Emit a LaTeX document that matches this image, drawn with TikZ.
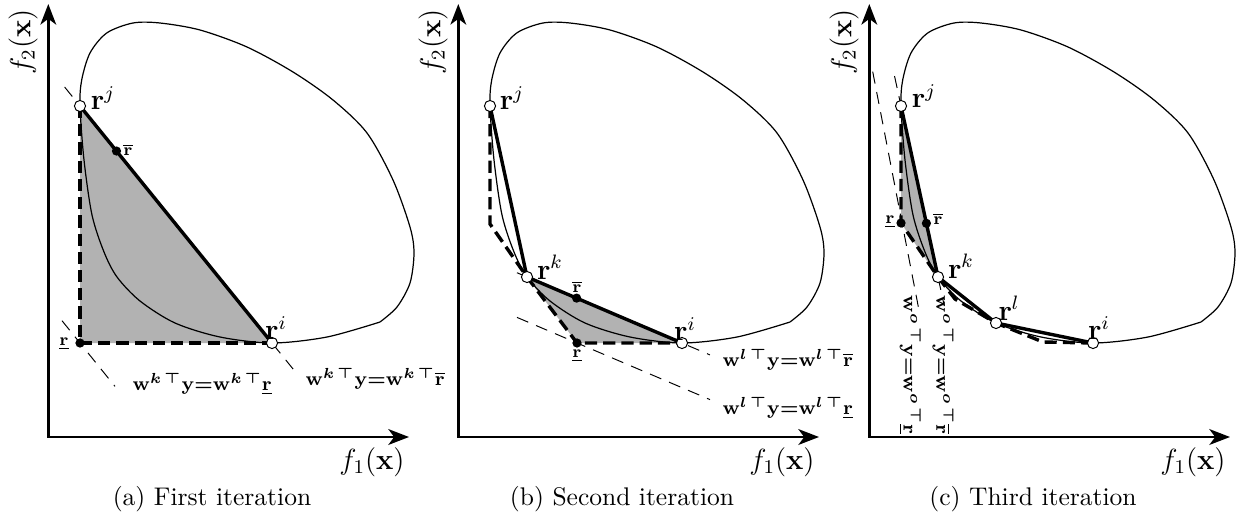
\documentclass[tikz,border=0pt]{standalone}
\usepackage{amsmath,amssymb}
\usepackage{xcolor}
\definecolor{hullgray}{RGB}{178,178,178}
\usepackage{tikz}
\usetikzlibrary{arrows.meta, positioning, calc}

% axes, objective-space boundary and axis labels of one panel
\newcommand{\objspace}[1]{%
    \coordinate (#1-o) at (48.3,437);
    \coordinate (#1-ytip) at (48.3,4);
    \coordinate (#1-xtip) at (409,437);
    \draw[front] plot[smooth] coordinates {(380,322) (327,337) (272,343) (220,337) (175,323) (140,301) (117,277) (104,252) (92,215) (84,160) (80,106) (81.7,80) (90,53) (106.7,33) (133,23) (160,23) (200,30) (247,47) (293,72) (333,100) (367,133) (393,180) (410,227) (414,253) (410,283) (397,307) (380,322)};
    \draw[axis] (#1-ytip) -- (#1-o) -- (#1-xtip);
    \node[font=\large, rotate=90] (#1-f2) at (23,42) {$f_2(\mathbf{x})$};
    \node[font=\large] (#1-f1) at (372,462) {$f_1(\mathbf{x})$};
}

\begin{document}
\begin{tikzpicture}[x=0.4115pt, y=-0.4115pt,
    axis/.style={line width=1pt, {Stealth[length=8.5pt,width=6.5pt,inset=2.4pt]}-{Stealth[length=8.5pt,width=6.5pt,inset=2.4pt]}},
    front/.style={line width=0.5pt},
    upper/.style={line width=1.4pt},
    lower/.style={line width=1.4pt, dash pattern=on 5pt off 2.5pt},
    level/.style={line width=0.4pt, dash pattern=on 5pt off 3.5pt},
    hull/.style={fill=hullgray},
    opt/.style={circle, draw, fill=white, inner sep=0pt, minimum size=4.6pt, line width=0.4pt},
    ref/.style={circle, fill=black, inner sep=0pt, minimum size=3.8pt},
    ptlabel/.style={font=\large},
    bndlabel/.style={font=\scriptsize},
    hyperlabel/.style={font=\footnotesize\boldmath},
    caption/.style={font=\fontsize{10.5}{12}\selectfont}]
    \useasboundingbox (0,0) rectangle (1245,523);

    % (a) first iteration
    \begin{scope}
        \coordinate (a-rj) at (80,106);
        \coordinate (a-ri) at (272,343);
        \coordinate (a-lo) at (80,343);
        \coordinate (a-up) at ($(a-rj)!0.19!(a-ri)$);
        \coordinate (a-h1s) at ($(a-rj)!-0.08!(a-ri)$);
        \coordinate (a-h1e) at ($(a-rj)!1.11!(a-ri)$);
        \coordinate (a-h2s) at ($(a-lo)+(-18,-22.3)$);
        \coordinate (a-h2e) at ($(a-lo)+(35,43.4)$);
        \fill[hull] (a-rj) -- (a-ri) -- (a-lo) -- cycle;
        \objspace{a}
        \draw[level] (a-h1s) -- (a-h1e);
        \draw[level] (a-h2s) -- (a-h2e);
        \draw[lower] (a-rj) -- (a-lo) -- (a-ri);
        \draw[upper] (a-rj) -- (a-ri);
        \node[ref] (a-lon) at (a-lo) {};
        \node[ref] (a-upn) at (a-up) {};
        \node[opt] (a-rjn) at (a-rj) {};
        \node[opt] (a-rin) at (a-ri) {};
        \node[ptlabel] at (103,98) {$\mathbf{r}^j$};
        \node[ptlabel] at (276,328) {$\mathbf{r}^i$};
        \node[bndlabel] at (128,150) {$\overline{\mathbf{r}}$};
        \node[bndlabel] at (64,344) {$\underline{\mathbf{r}}$};
        \node[hyperlabel, anchor=west] at (297,379) {$\mathbf{w}^{k\,\top}\mathbf{y}{=}\mathbf{w}^{k\,\top}\overline{\mathbf{r}}$};
        \node[hyperlabel, anchor=west] at (124,384) {$\mathbf{w}^{k\,\top}\mathbf{y}{=}\mathbf{w}^{k\,\top}\underline{\mathbf{r}}$};
        \node[caption] (a-cap) at (212,499) {(a) First iteration};
    \end{scope}

    % (b) second iteration
    \begin{scope}[xshift=410*0.4115pt]
        \coordinate (b-rj) at (80,106);
        \coordinate (b-rk) at (117,277);
        \coordinate (b-ri) at (272,343);
        \coordinate (b-lo) at (167,343);
        \coordinate (b-c) at (80,224);
        \coordinate (b-up) at ($(b-rk)!0.32!(b-ri)$);
        \coordinate (b-h1s) at ($(b-rk)!-0.065!(b-ri)$);
        \coordinate (b-h1e) at ($(b-rk)!1.18!(b-ri)$);
        \coordinate (b-h2s) at ($(b-lo)+(-60,-25.6)$);
        \coordinate (b-h2e) at ($(b-lo)+(133,56.6)$);
        \fill[hull] (b-rk) -- (b-ri) -- (b-lo) -- cycle;
        \objspace{b}
        \draw[level] (b-h1s) -- (b-h1e);
        \draw[level] (b-h2s) -- (b-h2e);
        \draw[lower] (b-rj) -- (b-c) -- (b-rk) -- (b-lo) -- (b-ri);
        \draw[upper] (b-rj) -- (b-rk) -- (b-ri);
        \node[ref] (b-lon) at (b-lo) {};
        \node[ref] (b-upn) at (b-up) {};
        \node[opt] (b-rjn) at (b-rj) {};
        \node[opt] (b-rkn) at (b-rk) {};
        \node[opt] (b-rin) at (b-ri) {};
        \node[ptlabel] at (102,98) {$\mathbf{r}^j$};
        \node[ptlabel] at (140,267) {$\mathbf{r}^k$};
        \node[ptlabel] at (275,329) {$\mathbf{r}^i$};
        \node[bndlabel] at (167,287) {$\overline{\mathbf{r}}$};
        \node[bndlabel] at (167,356) {$\underline{\mathbf{r}}$};
        \node[hyperlabel, anchor=west] at (304,360) {$\mathbf{w}^{l\,\top}\mathbf{y}{=}\mathbf{w}^{l\,\top}\overline{\mathbf{r}}$};
        \node[hyperlabel, anchor=west] at (304,408) {$\mathbf{w}^{l\,\top}\mathbf{y}{=}\mathbf{w}^{l\,\top}\underline{\mathbf{r}}$};
        \node[caption] (b-cap) at (212,499) {(b) Second iteration};
    \end{scope}

    % (c) third iteration
    \begin{scope}[xshift=821*0.4115pt]
        \coordinate (c-rj) at (80,106);
        \coordinate (c-rk) at (117,277);
        \coordinate (c-rl) at (175,323);
        \coordinate (c-ri) at (272,343);
        \coordinate (c-lo) at (80,223);
        \coordinate (c-c1) at (134,299);
        \coordinate (c-c2) at (222,342);
        \coordinate (c-up) at ($(c-rj)!0.686!(c-rk)$);
        \coordinate (c-h1s) at ($(c-lo)+(-28.3,-151.3)$);
        \coordinate (c-h1e) at ($(c-lo)+(17.3,83.7)$);
        \coordinate (c-h2s) at ($(c-rj)!-0.175!(c-rk)$);
        \coordinate (c-h2e) at ($(c-rj)!1.17!(c-rk)$);
        \fill[hull] (c-rj) -- (c-rk) -- (c-lo) -- cycle;
        \objspace{c}
        \draw[level] (c-h1s) -- (c-h1e);
        \draw[level] (c-h2s) -- (c-h2e);
        \draw[lower] (c-rj) -- (c-lo) -- (c-rk);
        \draw[lower] (c-rk) -- (c-c1) -- (c-rl) -- (c-c2) -- (c-ri);
        \draw[upper] (c-rj) -- (c-rk) -- (c-rl) -- (c-ri);
        \node[ref] (c-lon) at (c-lo) {};
        \node[ref] (c-upn) at (c-up) {};
        \node[opt] (c-rjn) at (c-rj) {};
        \node[opt] (c-rkn) at (c-rk) {};
        \node[opt] (c-rln) at (c-rl) {};
        \node[opt] (c-rin) at (c-ri) {};
        \node[ptlabel] at (103,96) {$\mathbf{r}^j$};
        \node[ptlabel] at (140,266) {$\mathbf{r}^k$};
        \node[ptlabel] at (188,308) {$\mathbf{r}^l$};
        \node[ptlabel] at (278,328) {$\mathbf{r}^i$};
        \node[bndlabel] at (117,219) {$\overline{\mathbf{r}}$};
        \node[bndlabel] at (69,222) {$\underline{\mathbf{r}}$};
        \node[hyperlabel, rotate=-90] at (89,365) {$\mathbf{w}^{o\,\top}\mathbf{y}{=}\mathbf{w}^{o\,\top}\underline{\mathbf{r}}$};
        \node[hyperlabel, rotate=-90] at (122,365) {$\mathbf{w}^{o\,\top}\mathbf{y}{=}\mathbf{w}^{o\,\top}\overline{\mathbf{r}}$};
        \node[caption] (c-cap) at (212,499) {(c) Third iteration};
    \end{scope}
\end{tikzpicture}
\end{document}
